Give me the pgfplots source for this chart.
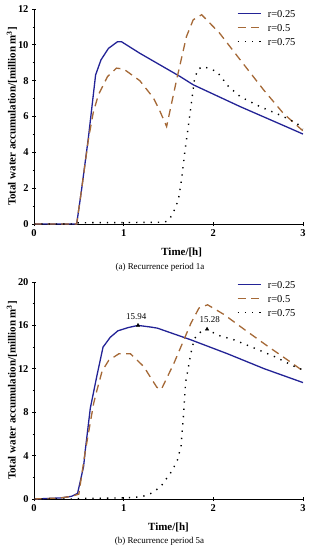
\documentclass[border=0pt]{standalone}
\usepackage{fontspec}
\setmainfont{Liberation Serif}
\usepackage{pgfplots}
\pgfplotsset{compat=1.18}
\definecolor{c1}{RGB}{35,35,150}
\definecolor{c2}{RGB}{165,105,55}
\pgfplotsset{
  legend image code/.code={\draw[#1] (0bp,0bp) -- (23bp,0bp); \path (29.5bp,0bp);},
  myaxis/.style={
    scale only axis, width=269bp,
    xmin=0, xmax=3, axis lines=left,
    axis line style={-, line width=0.8bp},
    xtick={0,1,2,3}, minor y tick num=1,
    tick align=center, major tick length=4bp, minor tick length=3bp,
    tick style={line width=0.7bp, black},
    /pgf/number format/assume math mode=true,
    tick label style={font=\fontsize{10.5}{11}\selectfont\bfseries},
    ylabel={Total water accumulation/[million m\textsuperscript{3}]},
    xlabel={Time/[h]},
    label style={font=\fontsize{11}{12}\selectfont\bfseries},
    ylabel style={at={(axis description cs:-0.082,0.5)}, anchor=center},
    legend style={draw=none, fill=none, font=\fontsize{10.5}{12}\selectfont,
      anchor=north west, inner sep=0pt, row sep=7bp,
      nodes={inner sep=0pt, text height=7bp, text depth=0bp}},
    legend cell align=left,
  },
  s1/.style={c1, line width=1.3bp},
  s2/.style={c2, line width=1.3bp, dash pattern=on 8bp off 5.5bp},
  s3/.style={black, line width=1.4bp, dash pattern=on 1.3bp off 6bp},
}
\begin{document}
\begin{tikzpicture}
\useasboundingbox (0,0) rectangle (309bp,-550bp);
% ---------------- top ----------------
\begin{axis}[myaxis, at={(34bp,-224bp)}, anchor=south west,
  height=215bp, ymin=0, ymax=12, ytick={0,2,...,12},
  xlabel style={at={(axis description cs:0.549,-0.13)}, anchor=center},
  legend style={at={(axis description cs:0.7535,0.995)}}]
\addplot[s1] coordinates {(0,0)(0.476,0)(0.53,1.9)(0.606,4.79)(0.687,8.32)(0.747,9.16)(0.83,9.8)(0.93,10.17)(0.977,10.17)(1.18,9.53)(1.63,8.23)(1.776,7.77)(2.30,6.55)(2.85,5.35)(3,5.02)};
\addlegendentry{r=0.25}
\addplot[s2] coordinates {(0,0)(0.476,0)(0.53,1.9)(0.606,4.7)(0.66,6.2)(0.717,7.2)(0.82,8.23)(0.92,8.7)(1.0,8.65)(1.18,8.0)(1.33,7.05)(1.40,6.35)(1.479,5.44)(1.59,8.04)(1.70,10.46)(1.776,11.4)(1.87,11.68)(2.07,10.65)(2.30,9.16)(2.56,7.49)(2.78,6.18)(2.965,5.35)(3,5.2)};
\addlegendentry{r=0.5}
\addplot[s3] coordinates {(0,0)(0.45,0.0)(0.5,0.07)(1.0,0.08)(1.45,0.1)(1.5,0.19)(1.55,0.6)(1.61,1.34)(1.645,2.46)(1.68,3.94)(1.72,5.43)(1.76,6.92)(1.79,8.1)(1.83,8.65)(1.89,8.79)(2.04,8.51)(2.17,7.67)(2.30,7.11)(2.52,6.55)(2.74,6.09)(2.93,5.63)(3,5.3)};
\addlegendentry{r=0.75}
\end{axis}
\node[font=\fontsize{9}{10}\selectfont] at (160bp,-267bp) {(a) Recurrence period 1a};
% ---------------- bottom ----------------
\begin{axis}[myaxis, at={(34bp,-499bp)}, anchor=south west,
  height=217bp, ymin=0, ymax=20, ytick={0,4,...,20},
  xlabel style={at={(axis description cs:0.5,-0.129)}, anchor=center},
  legend style={at={(axis description cs:0.7535,1.005)}}]
\addplot[s1] coordinates {(0,0)(0.3,0.1)(0.42,0.25)(0.486,0.52)(0.553,3.0)(0.572,4.5)(0.628,8.37)(0.70,11.3)(0.77,14.0)(0.85,14.9)(0.935,15.5)(1.05,15.8)(1.16,16.0)(1.30,15.85)(1.375,15.75)(1.75,14.67)(2.16,13.38)(2.57,12.0)(3,10.73)};
\addlegendentry{r=0.25}
\addplot[s2] coordinates {(0,0)(0.3,0.1)(0.42,0.25)(0.5,0.45)(0.57,4.3)(0.665,8.8)(0.703,10.06)(0.76,11.8)(0.833,12.77)(0.945,13.38)(1.076,13.38)(1.225,12.2)(1.30,11.2)(1.37,10.3)(1.42,10.1)(1.56,12.5)(1.656,14.37)(1.75,16.2)(1.84,17.6)(1.936,17.9)(2.12,17.0)(2.35,15.6)(2.61,14.06)(2.83,12.8)(3.0,11.8)};
\addlegendentry{r=0.5}
\addplot[s3] coordinates {(0,0)(0.45,0)(0.5,0.05)(1.0,0.1)(1.2,0.2)(1.3,0.5)(1.41,1.1)(1.54,2.6)(1.6,3.6)(1.64,4.9)(1.665,7.5)(1.69,10.7)(1.75,13.45)(1.79,14.8)(1.86,15.4)(1.93,15.65)(2.05,15.1)(2.23,14.67)(2.46,13.9)(2.68,13.13)(2.91,12.2)(3,11.9)};
\addlegendentry{r=0.75}
\addplot[forget plot, only marks, mark=triangle*, mark size=2bp, black] coordinates {(1.16,16.0)(1.93,15.65)};
\node[font=\fontsize{9}{10}\selectfont, anchor=south] at (axis cs:1.14,16.25) {15.94};
\node[font=\fontsize{9}{10}\selectfont, anchor=south] at (axis cs:1.96,15.9) {15.28};
\end{axis}
\node[font=\fontsize{9}{10}\selectfont] at (159.5bp,-541.7bp) {(b) Recurrence period 5a};
\end{tikzpicture}
\end{document}
